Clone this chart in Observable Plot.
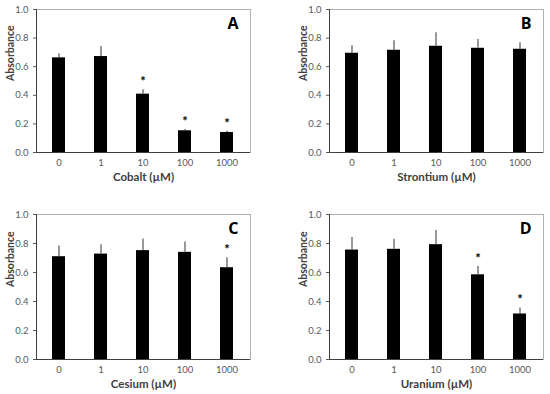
<!DOCTYPE html>
<html>
<head>
<meta charset="utf-8">
<script src="https://cdn.jsdelivr.net/npm/d3@7"></script>
<script src="https://cdn.jsdelivr.net/npm/@observablehq/plot@0.6"></script>
<style>
  html, body { margin: 0; padding: 0; background: #fff; }
  #wrap { position: relative; width: 550px; height: 394px; background: #fff; overflow: hidden; }
  .panel { position: absolute; width: 275px; height: 197px; }
</style>
</head>
<body>
<div id="wrap"></div>
<script>
const concentrations = ["0", "1", "10", "100", "1000"];
const yTicks = [0, 0.2, 0.4, 0.6, 0.8, 1.0];

const cobaltMean = [0.662, 0.671, 0.408, 0.152, 0.140];
const cobaltSD   = [0.028, 0.070, 0.030, 0.009, 0.009];
const cobaltSig  = [false, false, true, true, true];

const strontiumMean = [0.694, 0.715, 0.743, 0.729, 0.722];
const strontiumSD   = [0.052, 0.066, 0.094, 0.061, 0.045];
const strontiumSig  = [false, false, false, false, false];

const cesiumMean = [0.709, 0.727, 0.751, 0.739, 0.633];
const cesiumSD   = [0.074, 0.065, 0.080, 0.071, 0.069];
const cesiumSig  = [false, false, false, false, true];

const uraniumMean = [0.755, 0.760, 0.792, 0.584, 0.314];
const uraniumSD   = [0.086, 0.069, 0.097, 0.058, 0.042];
const uraniumSig  = [false, false, false, true, true];

const panels = [
  {letter: "A", xLabel: "Cobalt (µM)",    mean: cobaltMean,    sd: cobaltSD,    sig: cobaltSig,    left: 0,   top: 0,   mL: 36, mR: 25, mT: 9,  mB: 45},
  {letter: "B", xLabel: "Strontium (µM)", mean: strontiumMean, sd: strontiumSD, sig: strontiumSig, left: 275, top: 0,   mL: 54, mR: 7,  mT: 9,  mB: 45},
  {letter: "C", xLabel: "Cesium (µM)",    mean: cesiumMean,    sd: cesiumSD,    sig: cesiumSig,    left: 0,   top: 197, mL: 36, mR: 25, mT: 17, mB: 35},
  {letter: "D", xLabel: "Uranium (µM)",   mean: uraniumMean,   sd: uraniumSD,   sig: uraniumSig,   left: 275, top: 197, mL: 54, mR: 7,  mT: 17, mB: 35}
];

const FONT = "Lato, 'Open Sans', sans-serif";
const wrap = document.getElementById("wrap");

for (const p of panels) {
  const data = concentrations.map((c, i) => ({conc: c, mean: p.mean[i], sd: p.sd[i], sig: p.sig[i]}));
  const chart = Plot.plot({
    width: 275,
    height: 197,
    marginLeft: p.mL,
    marginRight: p.mR,
    marginTop: p.mT,
    marginBottom: p.mB,
    style: {fontFamily: FONT, background: "transparent", overflow: "visible"},
    x: {domain: concentrations, paddingInner: 0.69, paddingOuter: 0.345, axis: null},
    y: {domain: [0, 1], axis: null},
    marks: [
      Plot.frame({stroke: "#b0b0b0", strokeWidth: 1}),
      Plot.barY(data, {x: "conc", y: "mean", fill: "#000"}),
      Plot.ruleX(data, {x: "conc", y1: "mean", y2: d => d.mean + d.sd, stroke: "#555", strokeWidth: 1.2}),
      Plot.text(data.filter(d => d.sig), {x: "conc", y: d => d.mean + d.sd + 0.075, text: () => "*", fontSize: 13, fontWeight: "bold", fill: "#000", dy: 3}),
      Plot.axisY({ticks: yTicks, tickFormat: d3.format(".1f"), tickSize: 3, tickPadding: 5, fontSize: 9.5, color: "#595959", stroke: "#595959", label: null}),
      Plot.axisX({tickSize: 0, tickPadding: 7, fontSize: 9.5, color: "#595959", label: null}),
      Plot.ruleY([0], {stroke: "#404040", strokeWidth: 1}),
      Plot.frame({anchor: "left", stroke: "#404040", strokeWidth: 1}),
      Plot.text([p.xLabel], {frameAnchor: "bottom", dy: 25, text: d => d, fontSize: 11.5, fontWeight: "bold", fill: "#404040", lineAnchor: "middle"}),
      Plot.text(["Absorbance"], {frameAnchor: "left", dx: -26, rotate: -90, text: d => d, fontSize: 10.5, fontWeight: "bold", fill: "#404040", lineAnchor: "middle"}),
      Plot.text([p.letter], {frameAnchor: "top-right", dx: -12, dy: 14, text: d => d, fontSize: 16, fontWeight: "bold", fill: "#000", lineAnchor: "middle", fontFamily: "'Open Sans', sans-serif"})
    ]
  });
  const div = document.createElement("div");
  div.className = "panel";
  div.style.left = p.left + "px";
  div.style.top = p.top + "px";
  div.appendChild(chart);
  wrap.appendChild(div);
}
</script>
</body>
</html>
